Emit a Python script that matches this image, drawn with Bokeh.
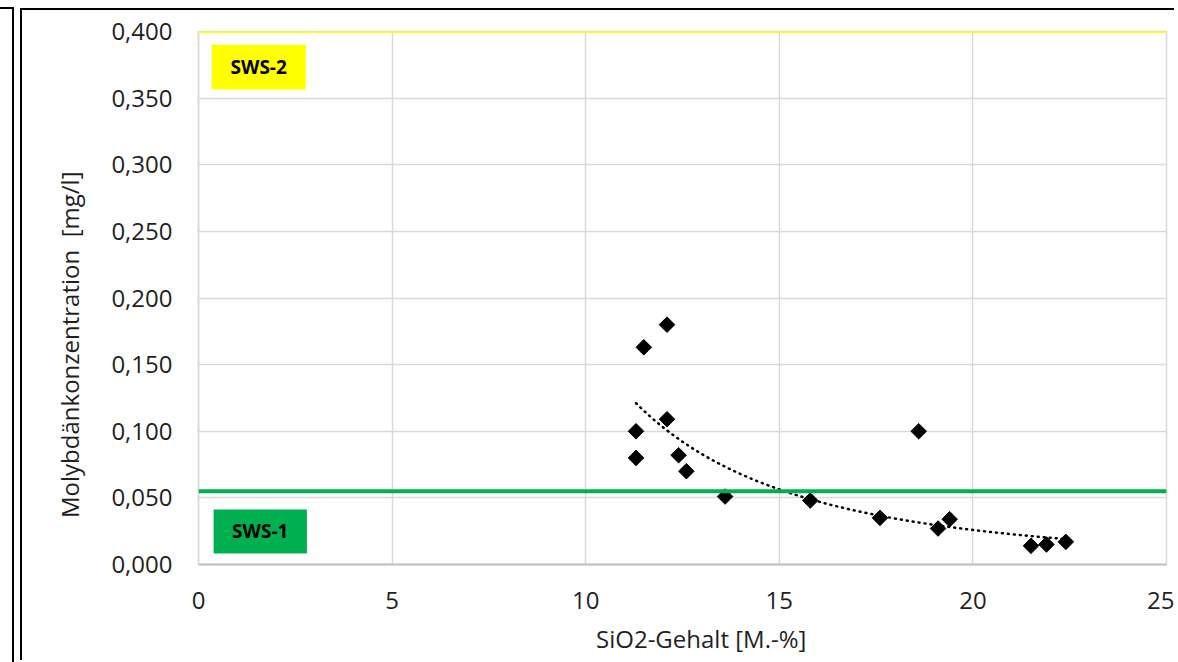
import numpy as np
from bokeh.plotting import figure
from bokeh.layouts import row
from bokeh.models import Span, BoxAnnotation, Label, FixedTicker, ColumnDataSource, Div
from bokeh.embed import file_html
from bokeh.resources import INLINE

# ---- data ----
sio2 = [11.3, 11.3, 11.5, 12.1, 12.1, 12.4, 12.6, 13.6, 15.8, 17.6, 18.6, 19.1, 19.4, 21.5, 21.9, 22.4]
molybdaen = [0.100, 0.080, 0.163, 0.180, 0.109, 0.082, 0.070, 0.051, 0.048, 0.035, 0.100, 0.027, 0.034, 0.014, 0.015, 0.017]

x_ticks = [0, 5, 10, 15, 20, 25]
x_tick_labels = ["0", "5", "10", "15", "20", "25"]
y_ticks = [0.0, 0.05, 0.10, 0.15, 0.20, 0.25, 0.30, 0.35, 0.40]
y_tick_labels = ["0,000", "0,050", "0,100", "0,150", "0,200", "0,250", "0,300", "0,350", "0,400"]

sws1_value = 0.055
sws2_value = 0.400
sws_names = ["SWS-1", "SWS-2"]

x_title = "SiO2-Gehalt [M.-%]"
y_title = "Molybdänkonzentration\u00a0 [mg/l]"

# power trendline fitted from the data (like Excel's power trend)
b, ln_a = np.polyfit(np.log(sio2), np.log(molybdaen), 1)
trend_x = np.linspace(min(sio2), max(sio2), 200)
trend_y = np.exp(ln_a) * trend_x ** b

FONT = "Open Sans"
TXT = "#1f1f1f"
NBSP = "\u00a0"

p = figure(width=1154, height=652, x_range=(0, 25), y_range=(0, 0.4),
           output_backend="svg", toolbar_location=None,
           min_border_left=176, min_border_right=10, min_border_top=21, min_border_bottom=98)
p.background_fill_color = "white"
p.border_fill_color = "white"
p.outline_line_color = "#d9d9d9"
p.outline_line_width = 1.5
p.margin = (8, 0, 0, 6)
p.styles = {"border-top": "2px solid black", "border-left": "2px solid black"}

p.xaxis.ticker = FixedTicker(ticks=x_ticks)
p.yaxis.ticker = FixedTicker(ticks=y_ticks)
p.xaxis.major_label_overrides = {t: l for t, l in zip(x_ticks, x_tick_labels)}
p.yaxis.major_label_overrides = {t: l for t, l in zip(y_ticks, y_tick_labels)}

for ax in (p.xaxis, p.yaxis):
    ax.major_tick_line_color = None
    ax.minor_tick_line_color = None
    ax.major_tick_out = 0
    ax.major_label_text_font = FONT
    ax.major_label_text_font_size = "24px"
    ax.major_label_text_color = TXT
    ax.axis_label_text_font = FONT
    ax.axis_label_text_font_size = "24px"
    ax.axis_label_text_font_style = "normal"
    ax.axis_label_text_color = TXT

p.xaxis.axis_line_color = "#bfbfbf"
p.xaxis.axis_line_width = 2
p.yaxis.axis_line_color = "#d9d9d9"
p.yaxis.axis_line_width = 1.5
p.xaxis.major_label_standoff = 27
p.yaxis.major_label_standoff = 26
# Excel placed both axis titles slightly off-centre; non-breaking padding reproduces that
p.xaxis.axis_label = NBSP * 6 + x_title
p.yaxis.axis_label = y_title + NBSP * 15
p.xaxis.axis_label_standoff = 10
p.yaxis.axis_label_standoff = 22

p.xgrid.ticker = FixedTicker(ticks=x_ticks)
p.ygrid.ticker = FixedTicker(ticks=y_ticks)
p.grid.grid_line_color = "#d9d9d9"
p.grid.grid_line_width = 1.5

# limit lines
p.add_layout(Span(location=sws1_value, dimension="width", line_color="#00b050", line_width=4))
p.add_layout(Span(location=sws2_value, dimension="width", line_color="#ffff00", line_width=3))

# label boxes
p.add_layout(BoxAnnotation(left=0.34, right=2.77, bottom=0.3565, top=0.390,
                           fill_color="#ffff00", fill_alpha=1, line_color=None))
p.add_layout(BoxAnnotation(left=0.39, right=2.80, bottom=0.0083, top=0.0413,
                           fill_color="#00b050", fill_alpha=1, line_color=None))
p.add_layout(Label(x=1.555, y=0.3735, text=sws_names[1], text_align="center", text_baseline="middle",
                   text_font=FONT, text_font_size="19px", text_font_style="bold", text_color="black"))
p.add_layout(Label(x=1.595, y=0.0248, text=sws_names[0], text_align="center", text_baseline="middle",
                   text_font=FONT, text_font_size="19px", text_font_style="bold", text_color="black"))

# trendline
p.line(trend_x, trend_y, line_color="black", line_width=2.5, line_dash="1 5", line_cap="round")

# points
src = ColumnDataSource(dict(x=sio2, y=molybdaen))
p.scatter("x", "y", source=src, marker="square", size=11, angle=np.pi / 4,
          fill_color="black", line_color="black")

# neighbouring chart edge on the left
left_edge = Div(text="", width=14, height=655, margin=(7, 0, 0, 0),
                styles={"border-top": "2px solid black", "border-right": "2px solid black"})

layout = row(left_edge, p)

open("out.html", "w").write(file_html(layout, INLINE))
